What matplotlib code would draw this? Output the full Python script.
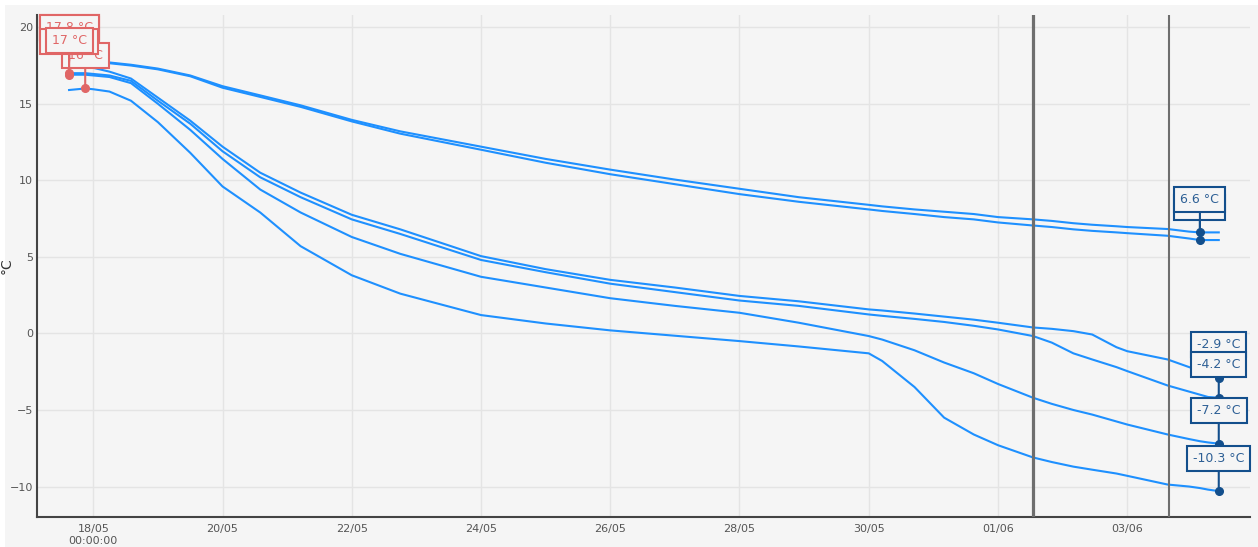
import numpy as np
import pandas as pd
import matplotlib
matplotlib.use('Agg')
import matplotlib.pyplot as plt
from matplotlib.patches import Rectangle

BG = '#f5f5f5'
LINE = '#1e90ff'
NAVY = '#134f8c'
NAVY_TXT = '#2d5f95'
RED = '#e06666'
GRID = '#e4e4e4'

plt.rcParams['font.family'] = ['DejaVu Sans']

# sample times (shared by every probe)
times = pd.to_datetime([
    '2023-05-17 15:00', '2023-05-17 21:00', '2023-05-18 00:00', '2023-05-18 06:00',
    '2023-05-18 14:00', '2023-05-19 00:00', '2023-05-19 12:00', '2023-05-20 00:00',
    '2023-05-20 14:00', '2023-05-21 05:00', '2023-05-22 00:00', '2023-05-22 18:00',
    '2023-05-24 00:00', '2023-05-25 00:00', '2023-05-26 00:00', '2023-05-27 00:00',
    '2023-05-28 00:00', '2023-05-28 22:00', '2023-05-30 00:00', '2023-05-30 05:00',
    '2023-05-30 17:00', '2023-05-31 04:00', '2023-05-31 15:00', '2023-06-01 00:00',
    '2023-06-01 13:00', '2023-06-01 20:00', '2023-06-02 04:00', '2023-06-02 11:00',
    '2023-06-02 20:00', '2023-06-03 00:00', '2023-06-03 15:00', '2023-06-03 23:00',
    '2023-06-04 03:00', '2023-06-04 06:00', '2023-06-04 10:00',
])

# temperatures (°C), one list per probe
probe_a = [17.8, 17.8, 17.75, 17.7, 17.55, 17.3, 16.85, 16.15, 15.55, 14.9, 13.95, 13.2,
           12.2, 11.4, 10.7, 10.05, 9.45, 8.9, 8.4, 8.3, 8.1, 7.95, 7.8, 7.6,
           7.45, 7.35, 7.2, 7.1, 7.0, 6.95, 6.82, 6.65, 6.6, 6.6, 6.6]
probe_b = [17.8, 17.75, 17.7, 17.65, 17.5, 17.25, 16.8, 16.05, 15.45, 14.8, 13.85, 13.05,
           12.0, 11.15, 10.4, 9.75, 9.1, 8.6, 8.1, 8.0, 7.8, 7.6, 7.45, 7.25,
           7.05, 6.95, 6.8, 6.7, 6.6, 6.55, 6.38, 6.2, 6.1, 6.1, 6.1]
probe_c = [17.7, 17.6, 17.35, 17.1, 16.65, 15.4, 13.9, 12.2, 10.5, 9.2, 7.75, 6.8,
           5.05, 4.2, 3.5, 3.0, 2.45, 2.1, 1.57, 1.5, 1.3, 1.1, 0.9, 0.7,
           0.39, 0.3, 0.15, -0.07, -0.9, -1.16, -1.7, -2.2, -2.45, -2.65, -2.9]
probe_d = [17.0, 17.0, 16.95, 16.85, 16.5, 15.2, 13.7, 11.9, 10.2, 8.9, 7.45, 6.5,
           4.8, 4.0, 3.25, 2.7, 2.15, 1.8, 1.24, 1.15, 0.95, 0.75, 0.5, 0.26,
           -0.17, -0.6, -1.3, -1.7, -2.2, -2.46, -3.4, -3.8, -4.0, -4.15, -4.2]
probe_e = [16.9, 16.9, 16.85, 16.75, 16.35, 15.0, 13.3, 11.4, 9.4, 7.9, 6.3, 5.2,
           3.7, 3.0, 2.3, 1.8, 1.35, 0.7, -0.17, -0.4, -1.1, -1.9, -2.6, -3.3,
           -4.2, -4.6, -5.0, -5.3, -5.75, -5.95, -6.6, -6.9, -7.04, -7.12, -7.2]
probe_f = [15.9, 16.0, 15.95, 15.8, 15.2, 13.8, 11.8, 9.6, 7.9, 5.7, 3.8, 2.6,
           1.2, 0.65, 0.2, -0.15, -0.5, -0.85, -1.3, -1.8, -3.5, -5.5, -6.6, -7.3,
           -8.1, -8.4, -8.7, -8.9, -9.15, -9.3, -9.87, -10.0, -10.1, -10.2, -10.3]

probes = [probe_a, probe_b, probe_c, probe_d, probe_e, probe_f]

# event markers (vertical lines)
events = pd.to_datetime(['2023-06-01 13:10', '2023-06-03 15:30'])
event_widths = [2.3, 1.5]

tick_dates = pd.date_range('2023-05-18', '2023-06-03', freq='2D')
tick_labels = ['18/05\n00:00:00'] + [d.strftime('%d/%m') for d in tick_dates[1:]]

fig = plt.figure(figsize=(12.58, 5.47), dpi=100)
fig.patch.set_facecolor('white')
fig.add_artist(Rectangle((5 / 1258, 0), 1, 1 - 5 / 547, transform=fig.transFigure,
                         facecolor=BG, edgecolor='none', zorder=-10))
ax = fig.add_axes([37 / 1258, 30 / 547, 1213 / 1258, 502 / 547])
ax.set_facecolor(BG)

for vals in probes:
    ax.plot(times, vals, color=LINE, lw=1.5, zorder=2)

for ev, w in zip(events, event_widths):
    ax.axvline(ev, color='#6e6e6e', lw=w, zorder=3)


def label(t, v, color, txt_color):
    ax.plot([t], [v], 'o', color=color, ms=5.5, zorder=4)
    ax.annotate(f'{round(v, 1):g} °C', xy=(t, v), xytext=(0, 33),
                textcoords='offset pixels', ha='center', va='center',
                fontsize=9, color=txt_color, zorder=6,
                bbox=dict(boxstyle='square,pad=0.48', fc=BG, ec=color, lw=1.5),
                arrowprops=dict(arrowstyle='-', color=color, lw=1.5,
                                shrinkA=0, shrinkB=0))


# minimum labels (blue)
for idx in [1, 0, 2, 3, 4, 5]:
    vals = np.array(probes[idx])
    i = int(np.argmin(vals))
    label(times[i], vals[i], NAVY, NAVY_TXT)

# maximum labels (red)
for idx in [5, 2, 1, 0, 4, 3]:
    vals = np.array(probes[idx])
    i = int(np.argmax(vals))
    label(times[i], vals[i], RED, RED)

ax.set_xlim(pd.Timestamp('2023-05-18') - pd.Timedelta(days=0.871),
            pd.Timestamp('2023-05-18') + pd.Timedelta(days=17.90))
ax.set_ylim(-11.99, 20.8)
ax.set_yticks([-10, -5, 0, 5, 10, 15, 20])
ax.set_yticklabels(['−10', '−5', '0', '5', '10', '15', '20'])
ax.set_xticks(tick_dates)
ax.set_xticklabels(tick_labels)

ax.grid(True, color=GRID, lw=1, zorder=0)
ax.set_axisbelow(True)
ax.tick_params(length=0, labelsize=8, colors='#555555')
ax.tick_params(axis='y', pad=3)
ax.tick_params(axis='x', pad=5)
for s in ['top', 'right']:
    ax.spines[s].set_visible(False)
for s in ['left', 'bottom']:
    ax.spines[s].set_color('#444444')
    ax.spines[s].set_linewidth(1.5)

ax.set_ylabel('°C', fontsize=10, color='#333333')
ax.yaxis.set_label_coords(-0.019, 0.5)

fig.savefig('out.png', dpi=100, facecolor=fig.get_facecolor())
